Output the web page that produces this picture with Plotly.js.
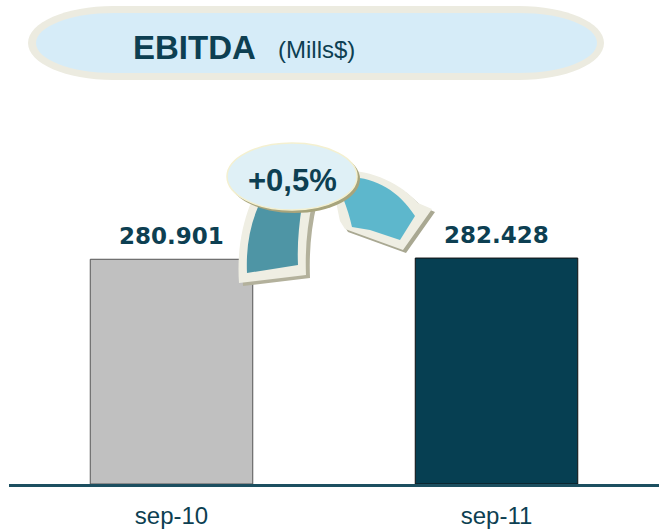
<!DOCTYPE html>
<html><head>
<script src="https://cdn.plot.ly/plotly-3.0.1.min.js"></script>
<style>body{margin:0;background:#fff}#c{width:659px;height:532px}</style>
</head><body><div id="c"></div>
<script>
const categories = ['sep-10', 'sep-11'];
const values = [280.901, 282.428];
const valueLabels = ['280.901', '282.428'];
const barColors = ['#c0c0c0', '#063f52'];
const barLineColors = ['#555555', '#111111'];
const changeLabel = '+0,5%';
const titleMain = 'EBITDA';
const titleUnit = '(Mills$)';

const W = 659, H = 532, ML = 9, MR = 0, MT = 100, MB = 48;
const pw = W - ML - MR, ph = H - MT - MB;
function px(x) { return (x - ML) / pw; }
function py(y) { return (H - MB - y) / ph; }
function path(s) {
  return s.replace(/(-?\d+\.?\d*),(-?\d+\.?\d*)/g, (m, a, b) => px(+a).toFixed(5) + ',' + py(+b).toFixed(5));
}
function rrect(x0, y0, x1, y1, rx, ry) {
  const k = 0.5523;
  return `M${x0+rx},${y0} L${x1-rx},${y0} C${x1-rx+k*rx},${y0} ${x1},${y0+ry-k*ry} ${x1},${y0+ry} ` +
    `L${x1},${y1-ry} C${x1},${y1-ry+k*ry} ${x1-rx+k*rx},${y1} ${x1-rx},${y1} ` +
    `L${x0+rx},${y1} C${x0+rx-k*rx},${y1} ${x0},${y1-ry+k*ry} ${x0},${y1-ry} ` +
    `L${x0},${y0+ry} C${x0},${y0+ry-k*ry} ${x0+rx-k*rx},${y0} ${x0+rx},${y0} Z`;
}
function shift(s, dx, dy) {
  return s.replace(/(-?\d+\.?\d*),(-?\d+\.?\d*)/g, (m, a, b) => (+a + dx) + ',' + (+b + dy));
}
function pshape(s, fill, line, lw) {
  return {type: 'path', xref: 'paper', yref: 'paper', path: path(s), fillcolor: fill,
          line: {color: line || fill, width: lw || 0}, layer: 'above'};
}
function ell(x0, y0, x1, y1, fill, line, lw) {
  return {type: 'circle', xref: 'paper', yref: 'paper', x0: px(x0), x1: px(x1), y0: py(y1), y1: py(y0),
          fillcolor: fill, line: {color: line || fill, width: lw || 0}, layer: 'above'};
}

const leftCream = 'M239,283 C237,255 241,228 250,205 L268,185 L313,200 C307,225 305,250 306,275 Z';
const leftTeal = 'M247,273 C246,250 249,228 258,207 L265,195 L302,205 C299,225 297,245 298,265 Z';
const rightCream = 'M340,170 C374,170 401,184 418,203 L432,209 L403,250 L345,229 L340,221 C338,212 337,205 334,195 Z';
const rightTeal = 'M350,177 C376,178 399,191 415,216 L400,240 L370,230 L352,227 C350,218 347,208 343,198 Z';

const shapes = [
  pshape(rrect(28, 6, 604, 80, 85, 37), '#ecebe0'),
  pshape(rrect(36, 13, 597, 73, 78, 30), '#d6ecf8'),
  pshape(shift(leftCream, 4, 3), '#b3b19c'),
  pshape(leftCream, '#efeee3'),
  pshape(leftTeal, '#4e95a5'),
  pshape(shift(rightCream, 3, 3), '#a9a892'),
  pshape(rightCream, '#efeee3'),
  pshape(rightTeal, '#5db7cc'),
  ell(229, 145, 360, 213, '#a7a47c'),
  ell(227, 143, 357, 210, '#dff0f6', '#f4f0d0', 1.5)
];

const annotations = [
  {xref: 'paper', yref: 'paper', x: px(194), y: py(47), text: '<b>' + titleMain + '</b>', showarrow: false,
   font: {family: 'Liberation Sans, Arial, sans-serif', size: 33, color: '#0d3f52'}, xanchor: 'center', yanchor: 'middle'},
  {xref: 'paper', yref: 'paper', x: px(316), y: py(49), text: titleUnit, showarrow: false,
   font: {family: 'Liberation Sans, Arial, sans-serif', size: 24, color: '#0d3f52'}, xanchor: 'center', yanchor: 'middle'},
  {xref: 'paper', yref: 'paper', x: px(292), y: py(180), text: '<b>' + changeLabel + '</b>', showarrow: false,
   font: {family: 'Liberation Sans, Arial, sans-serif', size: 31, color: '#0d3f52'}, xanchor: 'center', yanchor: 'middle'}
];
categories.forEach((c, i) => {
  annotations.push({x: c, y: values[i], xref: 'x', yref: 'y', text: '<b>' + valueLabels[i] + '</b>', showarrow: false,
    yanchor: 'bottom', yshift: 8,
    font: {family: 'DejaVu Sans, Verdana, sans-serif', size: 23, color: '#0d3f52'}});
});

const data = [{
  type: 'bar', x: categories, y: values, width: 0.5,
  marker: {color: barColors, line: {color: barLineColors, width: 1}},
  hoverinfo: 'none'
}];

const layout = {
  width: W, height: H,
  margin: {l: ML, r: MR, t: MT, b: MB},
  paper_bgcolor: '#ffffff', plot_bgcolor: '#ffffff',
  showlegend: false,
  xaxis: {range: [-0.5, 1.5], showline: true, linecolor: '#1c4f60', linewidth: 2.5,
          ticks: 'outside', ticklen: 9, tickcolor: 'rgba(0,0,0,0)', showgrid: false, zeroline: false,
          tickfont: {family: 'Liberation Sans, Arial, sans-serif', size: 24, color: '#0d3f52'}},
  yaxis: {range: [0, 480], visible: false, showgrid: false, zeroline: false},
  shapes: shapes,
  annotations: annotations
};
Plotly.newPlot('c', data, layout, {staticPlot: true, displayModeBar: false});
</script></body></html>
